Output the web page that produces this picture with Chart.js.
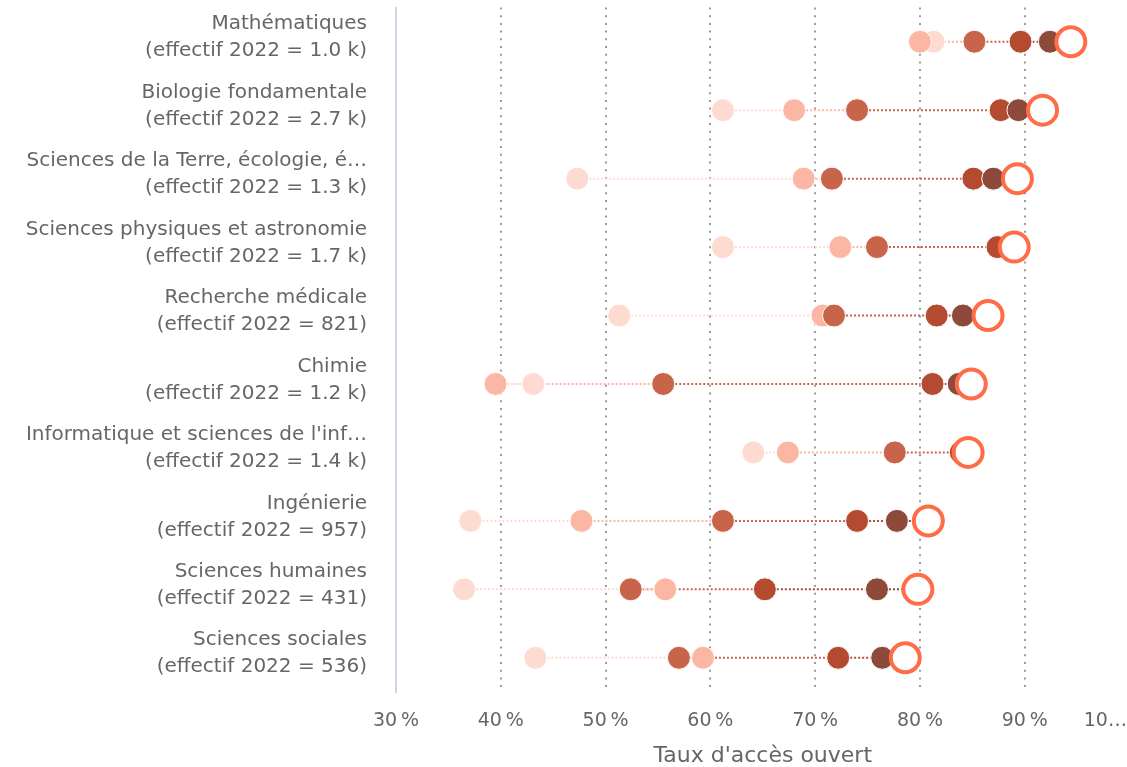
<!DOCTYPE html>
<html lang="fr">

<head>
    <meta charset="UTF-8">
    <title>Taux d'accès ouvert par discipline</title>
    <script src="https://cdn.jsdelivr.net/npm/chart.js@4.4.1/dist/chart.umd.min.js"></script>
    <style>
        html, body { margin: 0; padding: 0; background: #fff; overflow: hidden; }
        /* canvas a bit larger than the window: Chart.js keeps room for the big
           rings at the edges, the reference plot area goes nearly to the border */
        #wrap { width: 1148px; height: 778px; margin-top: -11px; }
        canvas { display: block; }
    </style>
</head>

<body>
    <div id="wrap"><canvas id="chart"></canvas></div>
    <script>
        // disciplines, top to bottom
        const categories = [
            ["Mathématiques", "(effectif 2022 = 1.0 k)"],
            ["Biologie fondamentale", "(effectif 2022 = 2.7 k)"],
            ["Sciences de la Terre, écologie, é…", "(effectif 2022 = 1.3 k)"],
            ["Sciences physiques et astronomie", "(effectif 2022 = 1.7 k)"],
            ["Recherche médicale", "(effectif 2022 = 821)"],
            ["Chimie", "(effectif 2022 = 1.2 k)"],
            ["Informatique et sciences de l'inf…", "(effectif 2022 = 1.4 k)"],
            ["Ingénierie", "(effectif 2022 = 957)"],
            ["Sciences humaines", "(effectif 2022 = 431)"],
            ["Sciences sociales", "(effectif 2022 = 536)"]
        ];

        // open access rate (%) per year
        const y2017 = [81.3, 61.2, 47.3, 61.2, 51.3, 43.1, 64.1, 37.1, 36.5, 43.3];
        const y2018 = [80.0, 68.0, 68.9, 72.4, 70.7, 39.5, 67.4, 47.7, 55.7, 59.3];
        const y2019 = [85.2, 74.0, 71.6, 75.9, 71.8, 55.5, 77.6, 61.2, 52.4, 57.0];
        const y2020 = [89.6, 87.7, 85.1, 87.4, 81.6, 81.2, 83.9, 74.0, 65.2, 72.2];
        const y2021 = [92.4, 89.4, 87.0, 88.6, 84.1, 83.7, 84.4, 77.8, 75.9, 76.4];
        const y2022 = [94.4, 91.7, 89.3, 89.0, 86.5, 84.9, 84.6, 80.8, 79.8, 78.6];

        const years = ["2017", "2018", "2019", "2020", "2021", "2022"];
        const series = [y2017, y2018, y2019, y2020, y2021, y2022];
        const colors = ["#fddbd1", "#fcb7a4", "#c8644a", "#b44a2f", "#8d4a3b", "#ff6c47"];

        const xTicks = [30, 40, 50, 60, 70, 80, 90, 100];

        const FONT = "'DejaVu Sans', sans-serif";

        function points(values) {
            return values.map((v, i) => ({ x: v, y: i }));
        }

        // one dotted segment per discipline between two consecutive years
        function connector(from, to) {
            const pts = [];
            from.forEach((v, i) => {
                pts.push({ x: v, y: i }, { x: to[i], y: i }, { x: null, y: null });
            });
            return pts;
        }

        const datasets = [];
        for (let k = 0; k < series.length - 1; k++) {
            datasets.push({
                type: "line",
                label: years[k] + "-" + years[k + 1],
                data: connector(series[k], series[k + 1]),
                borderColor: colors[k],
                borderWidth: 2,
                borderDash: [2, 2],
                pointRadius: 0,
                spanGaps: false,
                fill: false,
                order: 100
            });
        }
        series.forEach((s, k) => {
            const last = k === series.length - 1;
            datasets.push({
                type: "scatter",
                label: years[k],
                data: points(s),
                pointRadius: last ? 14.5 : 11.5,
                pointBackgroundColor: last ? "#ffffff" : colors[k],
                pointBorderColor: last ? colors[k] : "#ffffff",
                pointBorderWidth: last ? 4 : 1,
                order: 10 - k
            });
        });

        new Chart(document.getElementById("chart"), {
            type: "scatter",
            data: { datasets },
            options: {
                responsive: true,
                maintainAspectRatio: false,
                animation: false,
                layout: { padding: 0 },
                plugins: {
                    legend: { display: false },
                    tooltip: { enabled: false }
                },
                scales: {
                    x: {
                        type: "linear",
                        min: 30,
                        max: 100,
                        afterBuildTicks: scale => { scale.ticks = xTicks.map(v => ({ value: v })); },
                        afterFit: scale => { scale.paddingLeft = 0; scale.paddingRight = 0; scale.height = 75; },
                        grid: {
                            drawTicks: false,
                            lineWidth: 2,
                            color: ctx => ctx.tick && ctx.tick.value === 30 ? "rgba(0,0,0,0)" : "#9a9a9a"
                        },
                        border: { display: false, dash: [2, 5.7] },
                        ticks: {
                            autoSkip: false,
                            maxRotation: 0,
                            padding: 18,
                            color: "#666",
                            font: { family: FONT, size: 19 },
                            callback: v => v === 100 ? "10…        " : v + "\u2009%"
                        },
                        title: {
                            display: true,
                            text: "Taux d'accès ouvert",
                            color: "#666",
                            font: { family: FONT, size: 22, lineHeight: 1 },
                            padding: { top: 0, bottom: 0 }
                        }
                    },
                    y: {
                        type: "linear",
                        min: -0.5,
                        max: 9.5,
                        reverse: true,
                        afterBuildTicks: scale => { scale.ticks = categories.map((c, i) => ({ value: i })); },
                        afterFit: scale => { scale.width = 396; scale.paddingTop = 0; scale.paddingBottom = 0; },
                        grid: { display: false, drawTicks: false },
                        border: { display: true, color: "#ccd6eb", width: 2 },
                        ticks: {
                            padding: 29,
                            labelOffset: -4,
                            color: "#666",
                            font: { family: FONT, size: 20, lineHeight: 1.35 },
                            callback: v => categories[v]
                        }
                    }
                }
            }
        });
    </script>
</body>

</html>
